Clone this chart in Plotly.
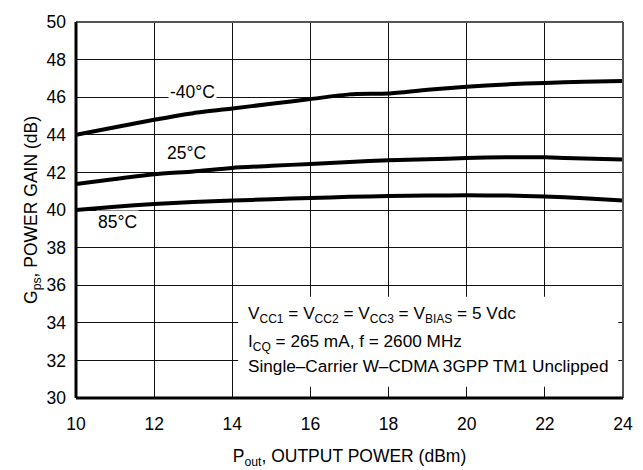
import plotly.graph_objects as go

# Output power sweep (dBm)
pout = [10, 11, 12, 13, 14, 15, 16, 17, 18, 19, 20, 21, 22, 23, 24]

# Power gain (dB) at each temperature
gain_m40 = [44.0, 44.4, 44.8, 45.15, 45.4, 45.65, 45.9, 46.15, 46.2, 46.4, 46.55, 46.68, 46.76, 46.82, 46.86]
gain_25 = [41.38, 41.65, 41.9, 42.05, 42.24, 42.35, 42.45, 42.55, 42.65, 42.7, 42.76, 42.81, 42.8, 42.74, 42.68]
gain_85 = [40.0, 40.17, 40.32, 40.42, 40.5, 40.57, 40.64, 40.7, 40.74, 40.77, 40.78, 40.77, 40.72, 40.62, 40.5]

x_ticks = [10, 12, 14, 16, 18, 20, 22, 24]
y_ticks = [30, 32, 34, 36, 38, 40, 42, 44, 46, 48, 50]

# Test-condition notes, one entry per line
notes = [
    "V<sub>CC1</sub> = V<sub>CC2</sub> = V<sub>CC3</sub> = V<sub>BIAS</sub> = 5 Vdc",
    "I<sub>CQ</sub> = 265 mA, f = 2600 MHz",
    "Single\u2013Carrier W\u2013CDMA 3GPP TM1 Unclipped",
]
notes_y = [34.45, 32.97, 31.72]

FONT = "Liberation Sans, Arial, Helvetica, sans-serif"
FS = 17.5

fig = go.Figure()
for g in (gain_m40, gain_25, gain_85):
    fig.add_trace(go.Scatter(
        x=pout, y=g, mode="lines",
        line=dict(color="black", width=4, shape="spline", smoothing=0.6),
        showlegend=False, hoverinfo="skip",
    ))

# White panel behind the test-condition notes
fig.add_shape(type="rect", xref="x", yref="y",
              x0=14.15, x1=23.88, y0=30.6, y1=35.38,
              fillcolor="white", line=dict(width=0), layer="between")

for txt, yv in zip(notes, notes_y):
    fig.add_annotation(
        x=14.35, y=yv, xref="x", yref="y", xanchor="left", yanchor="middle",
        align="left", showarrow=False,
        font=dict(family=FONT, size=17.2, color="black"), text=txt,
    )

# Temperature labels
for txt, xv, yv in (("-40\u00b0C", 12.97, 46.3), ("25\u00b0C", 12.84, 43.05), ("85\u00b0C", 11.06, 39.35)):
    fig.add_annotation(
        x=xv, y=yv, xref="x", yref="y", text=txt, showarrow=False,
        font=dict(family=FONT, size=FS, color="black"),
        bgcolor="white", borderpad=1,
    )

fig.update_layout(
    width=643, height=470,
    margin=dict(l=76, r=20, t=15, b=72),
    paper_bgcolor="white", plot_bgcolor="white",
    font=dict(family=FONT, size=FS, color="black"),
)

fig.update_xaxes(
    range=[10, 24], tickvals=x_ticks, ticktext=[str(v) for v in x_ticks],
    showgrid=True, gridcolor="#111111", gridwidth=1.3, automargin=False,
    zeroline=False, showline=False, ticks="", ticklabelstandoff=13,
    title=dict(text="P<sub>out</sub>, OUTPUT POWER (dBm)", font=dict(size=FS), standoff=17),
)
fig.update_yaxes(
    range=[30, 50], tickvals=y_ticks, ticktext=[str(v) for v in y_ticks],
    showgrid=True, gridcolor="#111111", gridwidth=1.3, automargin=True,
    zeroline=False, showline=False, ticks="", ticklabelstandoff=9,
    title=dict(text="G<sub>ps</sub>, POWER GAIN (dB)", font=dict(size=FS), standoff=4),
)

# Frame: heavy left and bottom axes, lighter top and right edges
fig.add_shape(type="line", xref="paper", yref="paper", x0=1, x1=1, y0=0, y1=1,
              line=dict(color="#555555", width=2))
fig.add_shape(type="line", xref="paper", yref="paper", x0=0, x1=1, y0=1, y1=1,
              line=dict(color="#555555", width=2))
fig.add_shape(type="line", xref="paper", yref="paper", x0=0, x1=1, y0=0, y1=0,
              line=dict(color="black", width=3))
fig.add_shape(type="line", xref="paper", yref="paper", x0=0, x1=0, y0=0, y1=1,
              line=dict(color="black", width=3))

fig.write_html("out.html")
